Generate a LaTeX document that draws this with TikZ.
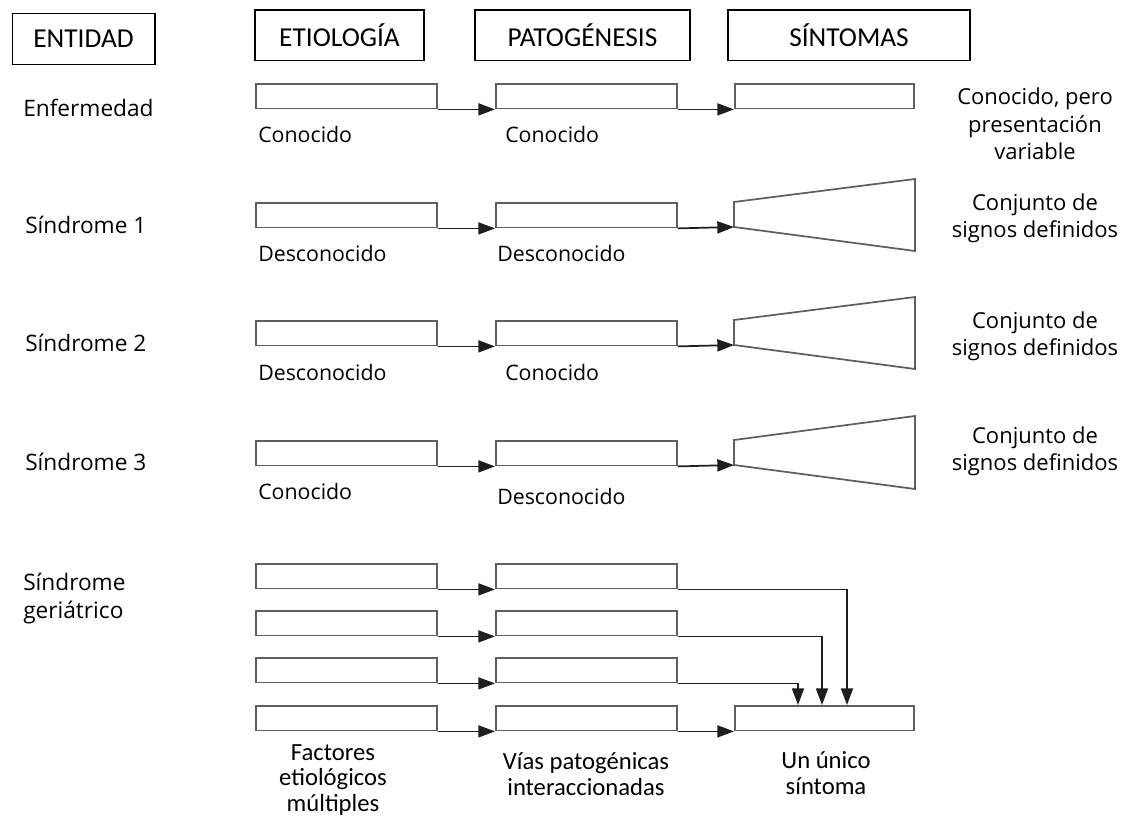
\documentclass[tikz,border=0pt]{standalone}
\usepackage{fontspec}
\setmainfont{Open Sans}
\newfontfamily\calfont{Carlito}
\usetikzlibrary{arrows.meta, positioning}
\definecolor{barline}{RGB}{95,95,95}
\definecolor{arrline}{RGB}{30,30,30}

\tikzset{
  head/.style={draw, line width=1pt, inner sep=0pt, minimum height=38pt, font=\calfont\fontsize{20.5}{22}\selectfont},
  bar/.style={draw=barline, line width=1.3pt, inner sep=0pt, minimum width=135.75pt, minimum height=18.5pt, anchor=north west},
  arr/.style={draw=arrline, line width=1.3pt, -{Triangle[length=12.5pt,width=9pt]}},
  row/.style={anchor=west, inner sep=0pt, font=\fontsize{17}{21}\selectfont},
  lbl/.style={anchor=west, inner sep=0pt, font=\fontsize{16}{18}\selectfont},
  note/.style={align=center, inner sep=0pt, font=\fontsize{16.5}{20.5}\selectfont},
  foot/.style={align=center, inner sep=0pt, font=\calfont\fontsize{18.5}{19}\selectfont}
}

\begin{document}
\begin{tikzpicture}[x=0.75pt, y=-0.75pt]
        \useasboundingbox (0,0) rectangle (1126,823);

        % cabecera
        \node[head, minimum width=107pt] (entidad) at (83.5,39) {ENTIDAD};
        \node[head, minimum width=126.75pt] (etio) at (339.5,35.5) {ETIOLOGÍA};
        \node[head, minimum width=161.25pt] (pato) at (582.5,35.5) {PATOGÉNESIS};
        \node[head, minimum width=181.5pt] (sint) at (849,35.5) {SÍNTOMAS};

        % enfermedad
        \node[row] (enf) at (23,108) {Enfermedad};
        \node[bar] (e0) at (255,83) {};
        \node[bar] (p0) at (495,83) {};
        \node[bar, minimum width=134.25pt] (s0) at (734,83) {};
        \draw[arr] (e0.south east) -- (p0.south west);
        \draw[arr] (p0.south east) -- (s0.south west);
        \node[lbl] (e0l) at (258,135) {Conocido};
        \node[lbl] (p0l) at (505,135) {Conocido};
        \node[note] (s0l) at (1035,124) {Conocido, pero\\presentación\\variable};

        % sindrome 1
        \node[row] (sin1) at (25,225) {Síndrome 1};
        \node[bar] (e1) at (255,202) {};
        \node[bar] (p1) at (495,202) {};
        \coordinate (t1) at (734,227);
        \draw[draw=barline, line width=1.3pt] (734,202) -- (t1) -- (915,251) -- (915,179) -- cycle;
        \draw[arr] (e1.south east) -- (p1.south west);
        \draw[arr] (p1.south east) -- (t1);
        \node[lbl] (e1l) at (258,254) {Desconocido};
        \node[lbl] (p1l) at (497,254) {Desconocido};
        \node[note] (s1l) at (1035,218) {Conjunto de\\signos definidos};

        % sindrome 2
        \node[row] (sin2) at (25,343) {Síndrome 2};
        \node[bar] (e2) at (255,320) {};
        \node[bar] (p2) at (495,320) {};
        \coordinate (t2) at (734,345);
        \draw[draw=barline, line width=1.3pt] (734,320) -- (t2) -- (915,369) -- (915,297) -- cycle;
        \draw[arr] (e2.south east) -- (p2.south west);
        \draw[arr] (p2.south east) -- (t2);
        \node[lbl] (e2l) at (258,372) {Desconocido};
        \node[lbl] (p2l) at (505,372) {Conocido};
        \node[note] (s2l) at (1035,336) {Conjunto de\\signos definidos};

        % sindrome 3
        \node[row] (sin3) at (25,462) {Síndrome 3};
        \node[bar] (e3) at (255,440) {};
        \node[bar] (p3) at (495,440) {};
        \coordinate (t3) at (734,465);
        \draw[draw=barline, line width=1.3pt] (734,440) -- (t3) -- (915,489) -- (915,416) -- cycle;
        \draw[arr] (e3.south east) -- (p3.south west);
        \draw[arr] (p3.south east) -- (t3);
        \node[lbl] (e3l) at (258,491) {Conocido};
        \node[lbl] (p3l) at (497,496) {Desconocido};
        \node[note] (s3l) at (1035,451) {Conjunto de\\signos definidos};

        % sindrome geriatrico
        \node[row, align=left] (ger) at (23,599) {Síndrome\\geriátrico};
        \node[bar] (ge1) at (255,563) {};
        \node[bar] (gp1) at (495,563) {};
        \node[bar] (ge2) at (255,610) {};
        \node[bar] (gp2) at (495,610) {};
        \node[bar] (ge3) at (255,657) {};
        \node[bar] (gp3) at (495,657) {};
        \node[bar] (ge4) at (255,705) {};
        \node[bar] (gp4) at (495,705) {};
        \node[bar, minimum width=134.25pt] (gs) at (734,705) {};

        \draw[arr] (ge1.south east) -- (gp1.south west);
        \draw[arr] (ge2.south east) -- (gp2.south west);
        \draw[arr] (ge3.south east) -- (gp3.south west);
        \draw[arr] (ge4.south east) -- (gp4.south west);
        \draw[arr] (gp1.south east) -| ([xshift=84.75pt]gs.north west);
        \draw[arr] (gp2.south east) -| ([xshift=66pt]gs.north west);
        \draw[arr] (gp3.south east) -| ([xshift=48pt]gs.north west);
        \draw[arr] (gp4.south east) -- (gs.south west);

        \node[foot] (gel) at (333,780) {Factores\\etiológicos\\múltiples};
        \node[foot] (gpl) at (586,774) {Vías patogénicas\\interaccionadas};
        \node[foot] (gsl) at (826,773) {Un único\\síntoma};
    \end{tikzpicture}
\end{document}
